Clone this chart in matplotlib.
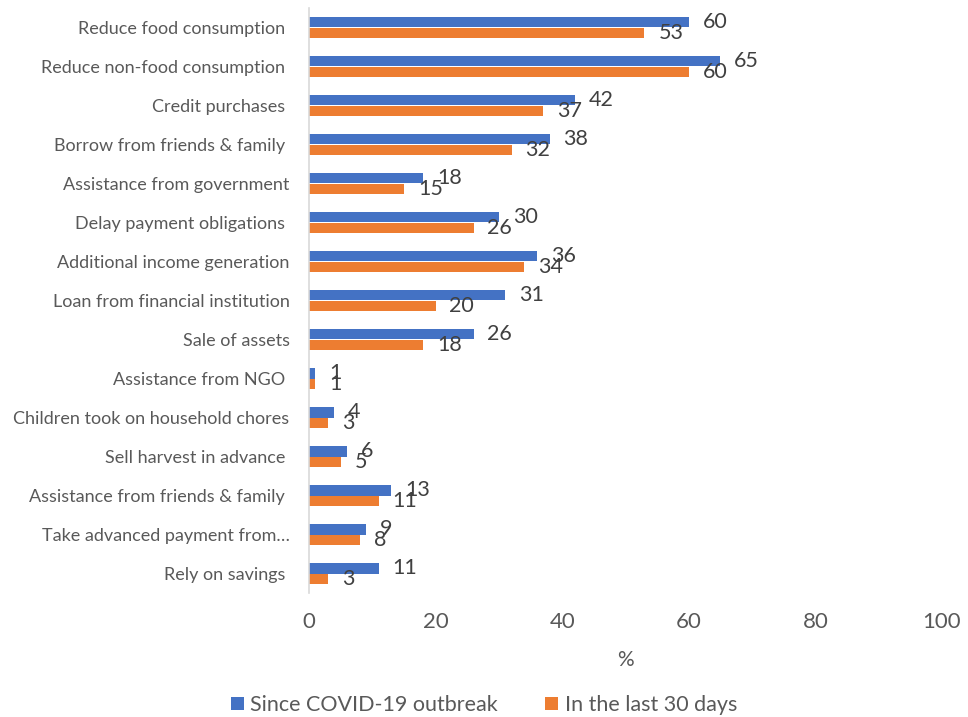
import matplotlib
matplotlib.use("Agg")
import matplotlib.pyplot as plt
import numpy as np

categories = [
    "Reduce food consumption ",
    "Reduce non-food consumption ",
    "Credit purchases ",
    "Borrow from friends & family ",
    "Assistance from government",
    "Delay payment obligations ",
    "Additional income generation",
    "Loan from financial institution",
    "Sale of assets",
    "Assistance from NGO ",
    "Children took on household chores",
    "Sell harvest in advance ",
    "Assistance from friends & family ",
    "Take advanced payment from\u2026",
    "Rely on savings ",
]
since_covid = [60, 65, 42, 38, 18, 30, 36, 31, 26, 1, 4, 6, 13, 9, 11]
last_30_days = [53, 60, 37, 32, 15, 26, 34, 20, 18, 1, 3, 5, 11, 8, 3]
series_names = ["Since COVID-19 outbreak", "In the last 30 days"]
x_ticks = [0, 20, 40, 60, 80, 100]

BLUE = "#4472C4"
ORANGE = "#ED7D31"
TEXT = "#595959"
LABEL = "#404040"

plt.rcParams["font.family"] = ["Lato", "DejaVu Sans"]

fig = plt.figure(figsize=(9.68, 7.17), dpi=100)
ax = fig.add_axes([309 / 968, 1 - 593 / 717, (942 - 309) / 968, (593 - 8) / 717])

n = len(categories)
y = np.arange(n)
h = 0.265

b1 = ax.barh(y - h / 2, since_covid, height=h, color=BLUE, label=series_names[0])
b2 = ax.barh(y + h / 2, last_30_days, height=h, color=ORANGE, label=series_names[1])

for bars in (b1, b2):
    for rect in bars:
        v = rect.get_width()
        ax.annotate(f"{v:g}", xy=(v, rect.get_y() + rect.get_height() / 2),
                    xytext=(10, 0), textcoords="offset points",
                    ha="left", va="center", fontsize=15.5, color=LABEL)

ax.set_ylim(n - 0.5, -0.5)
ax.set_xlim(0, 100)
ax.set_yticks(y)
ax.set_yticklabels(categories, fontsize=13, color=TEXT)
ax.set_xticks(x_ticks)
ax.set_xticklabels([str(t) for t in x_ticks], fontsize=16, color=TEXT)
ax.tick_params(axis="y", length=0, pad=14)
ax.tick_params(axis="x", length=0, pad=14)
ax.set_xlabel("%", fontsize=15, color=TEXT, labelpad=13)

for side in ("top", "right", "bottom"):
    ax.spines[side].set_visible(False)
ax.spines["left"].set_color("#D9D9D9")
ax.spines["left"].set_linewidth(1.2)

fig.legend(handles=[b1, b2], labels=series_names, loc="center",
           bbox_to_anchor=(0.5, 1 - 705 / 717), ncol=2, frameon=False,
           fontsize=15.5, labelcolor=TEXT, handlelength=0.6, handleheight=0.6,
           handletextpad=0.3, columnspacing=2.2)

fig.savefig("out.png", dpi=100)
